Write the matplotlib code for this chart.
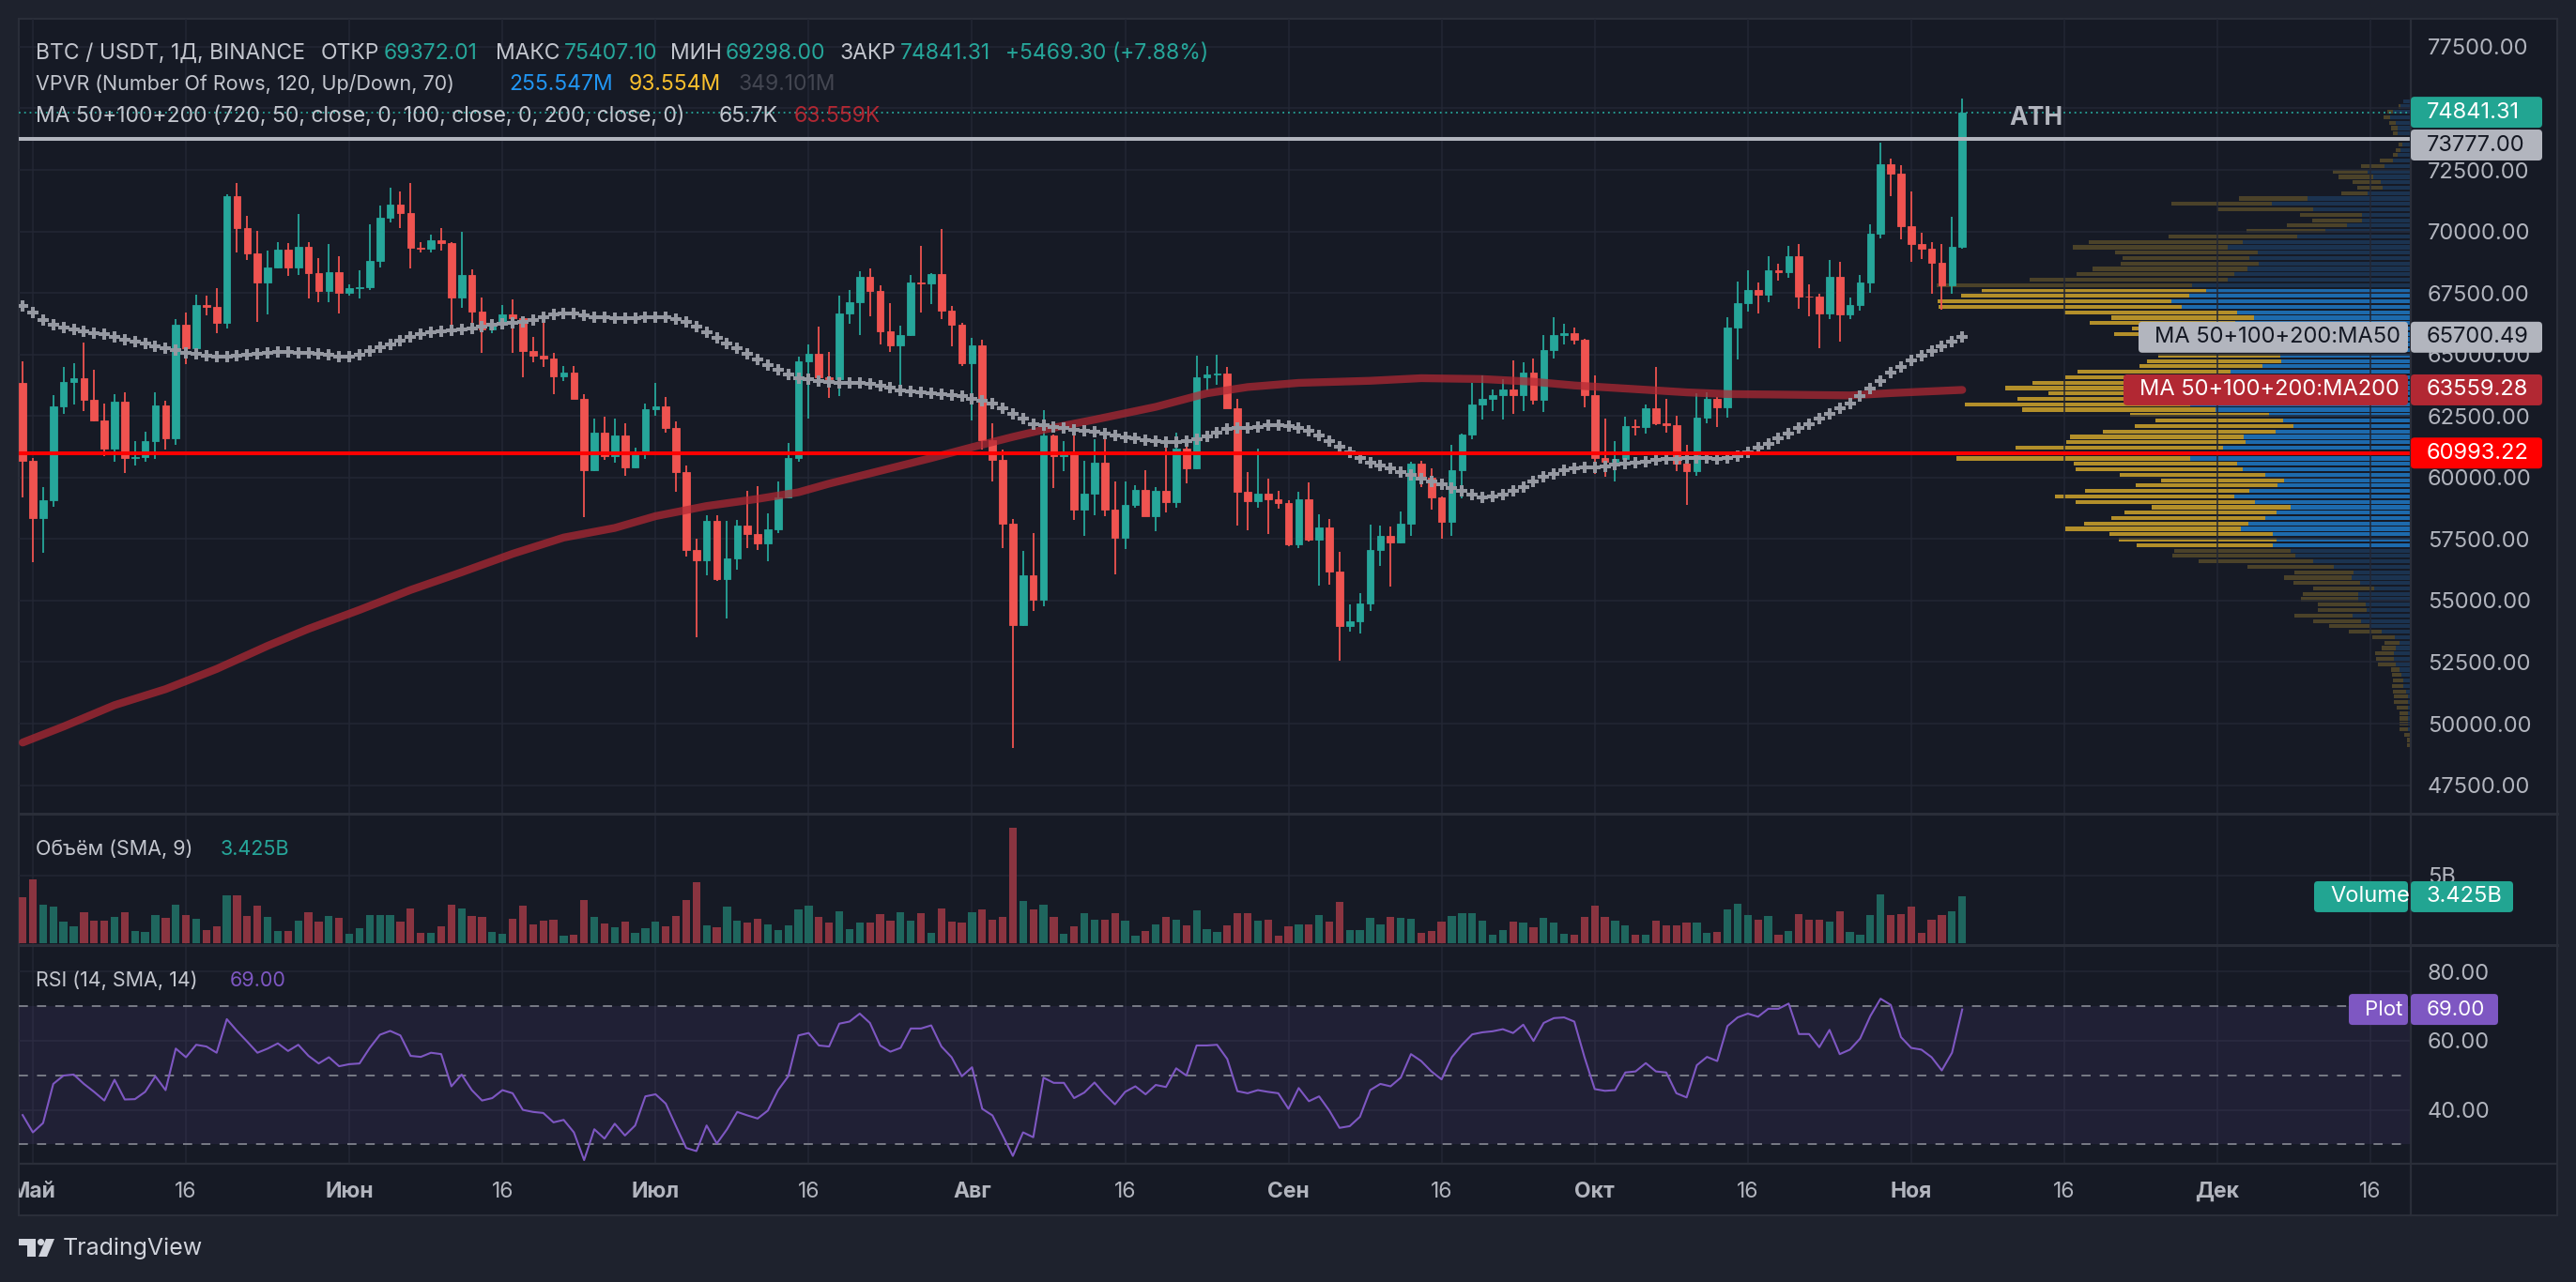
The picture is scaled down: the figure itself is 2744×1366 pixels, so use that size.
import numpy as np
import pandas as pd
import matplotlib
matplotlib.use("Agg")
import matplotlib.pyplot as plt
import matplotlib.dates as mdates
import matplotlib.transforms as mtransforms
from matplotlib.patches import Rectangle, FancyBboxPatch, Polygon, Circle
from matplotlib.lines import Line2D

W, H, DPI = 2744, 1366, 100
plt.rcParams["font.family"] = ["Inter", "DejaVu Sans"]

# ---- daily candles BTC/USDT, 30 Apr .. 6 Nov 2024 ----
opens = [
    63840, 60670, 58360, 59090, 62890, 63890, 64030, 63160, 62330, 61190,
    63070, 60790, 60820, 61480, 62940, 61580, 66210, 65240, 67020, 66920,
    66270, 71450, 70140, 69120, 67930, 68530, 69270, 68520, 69390, 68300,
    67580, 68360, 67490, 67710, 67750, 68800, 70570, 71080, 70760, 69340,
    69310, 69650, 69510, 67330, 68240, 66760, 66010, 66190, 66640, 66490,
    65150, 64960, 64830, 64100, 64250, 63180, 60280, 61810, 60860, 61710,
    60430, 60990, 62770, 62900, 62030, 60210, 57050, 56630, 58230, 55860,
    56710, 58050, 57720, 57340, 57890, 59200, 60800, 64720, 65040, 64090,
    63990, 66660, 67140, 68170, 67580, 65930, 65370, 65780, 67910, 67900,
    68250, 66780, 66190, 64630, 65350, 61500, 60700, 58120, 53990, 56030,
    55030, 61710, 60880, 60950, 58710, 59350, 60600, 58690, 57540, 58870,
    59490, 58430, 59440, 59010, 61160, 60380, 64090, 64180, 64220, 62830,
    59420, 59030, 59360, 59120, 58970, 57300, 59130, 57480, 57970, 56160,
    53960, 54160, 54870, 57040, 57630, 57350, 58130, 60570, 60000, 59180,
    58190, 60310, 61760, 62950, 63200, 63350, 63580, 63340, 64260, 63150,
    65170, 65770, 65860, 65600, 63330, 60800, 60650, 60750, 62090, 62060,
    62820, 62220, 62130, 60580, 60270, 62450, 63190, 62850, 66080, 67070,
    67620, 67420, 68430, 68360, 69000, 67370, 67360, 66650, 68160, 66640,
    67010, 67930, 69910, 72720, 72340, 70220, 69480, 69290, 68740, 67810,
    69372.01,
]
highs = [
    64730, 60780, 59600, 63330, 64490, 64650, 65500, 64390, 62990, 63400,
    63460, 61490, 61850, 63450, 63100, 66450, 66690, 67440, 67400, 67700,
    71510, 71980, 70620, 70040, 69220, 69560, 69510, 70690, 69560, 68900,
    69500, 69000, 67860, 68410, 70290, 71060, 71760, 71620, 71980, 69580,
    69850, 70150, 69570, 69990, 68450, 67300, 66400, 66990, 67250, 66560,
    65730, 66480, 65070, 64520, 64520, 63370, 62380, 62480, 62390, 62200,
    61220, 63000, 63850, 63290, 62280, 60500, 57510, 58480, 58470, 58240,
    58290, 59470, 59650, 58530, 59850, 61420, 64900, 65390, 66130, 65120,
    67390, 67600, 68370, 68480, 67820, 67100, 66180, 68220, 69400, 68320,
    70080, 66980, 66270, 65660, 65600, 62200, 61120, 58300, 57030, 57740,
    62750, 61760, 61470, 61860, 60680, 61570, 61800, 59850, 59820, 59690,
    60280, 59620, 61400, 61820, 61410, 64950, 64520, 65000, 64480, 63210,
    60230, 61170, 59940, 59460, 59060, 59420, 59800, 58520, 58330, 56990,
    54840, 55300, 58100, 58040, 57990, 58600, 60630, 60660, 60380, 59210,
    61320, 61790, 63850, 64130, 63560, 64000, 64750, 64690, 64820, 65800,
    66500, 66260, 66080, 65620, 64130, 62390, 61470, 62480, 62370, 62970,
    64480, 63200, 62520, 61320, 63420, 63480, 63290, 66500, 67950, 68420,
    67940, 69000, 68690, 69400, 69500, 67840, 67450, 68850, 68770, 67320,
    68220, 70270, 73620, 72960, 72700, 71630, 69940, 69580, 69480, 70580,
    75407.10,
]
lows = [
    59190, 56550, 56940, 58810, 62570, 62960, 62700, 62280, 60880, 60650,
    60190, 60490, 60630, 60750, 61150, 61330, 64610, 65110, 66600, 65860,
    66060, 69160, 68840, 66310, 66620, 68480, 68180, 68240, 67270, 67130,
    67130, 66680, 67380, 67260, 67610, 68540, 70380, 70120, 68500, 69150,
    69130, 69230, 66050, 66900, 66300, 65080, 65880, 66000, 65080, 64060,
    64700, 64500, 63380, 63910, 63180, 58400, 60260, 60710, 60620, 60070,
    60380, 60770, 62520, 61820, 59410, 56770, 53490, 56030, 55790, 54260,
    56270, 57150, 57050, 56590, 57750, 59170, 60640, 62400, 63850, 63240,
    63300, 66230, 65800, 66570, 65390, 65110, 63450, 65750, 66720, 67050,
    66450, 65320, 64530, 62300, 61120, 59850, 57120, 49000, 53960, 54560,
    54770, 59570, 60260, 58290, 57640, 58450, 58430, 56080, 57100, 58780,
    58410, 57810, 58590, 58780, 59780, 60350, 63530, 63780, 62800, 58030,
    57860, 58790, 57700, 58740, 57200, 57130, 57410, 55600, 55640, 52550,
    53740, 53650, 54590, 56390, 55550, 57320, 57630, 59600, 58700, 57500,
    57610, 59170, 61560, 62350, 62700, 62360, 62580, 62700, 62980, 62670,
    64820, 65420, 65420, 62860, 60160, 60040, 59830, 60460, 61690, 61800,
    62130, 61820, 60260, 58900, 60050, 62220, 62040, 62420, 64800, 66750,
    66670, 67120, 68010, 68100, 66840, 66570, 65260, 66450, 65520, 66440,
    66770, 67510, 69730, 71440, 69690, 68780, 68860, 67480, 66800, 67450,
    69298.00,
]
closes = [
    60670, 58360, 59090, 62890, 63890, 64030, 63160, 62330, 61190, 63070,
    60790, 60820, 61480, 62940, 61580, 66210, 65240, 67020, 66920, 66270,
    71450, 70140, 69120, 67930, 68530, 69270, 68520, 69390, 68300, 67580,
    68360, 67490, 67710, 67750, 68800, 70570, 71080, 70760, 69340, 69310,
    69650, 69510, 67330, 68240, 66760, 66010, 66190, 66640, 66490, 65150,
    64960, 64830, 64100, 64250, 63180, 60280, 61810, 60860, 61710, 60430,
    60990, 62770, 62900, 62030, 60210, 57050, 56630, 58230, 55860, 56710,
    58050, 57720, 57340, 57890, 59200, 60800, 64720, 65040, 64090, 63990,
    66660, 67140, 68170, 67580, 65930, 65370, 65780, 67910, 67900, 68250,
    66780, 66190, 64630, 65350, 61500, 60700, 58120, 53990, 56030, 55030,
    61710, 60880, 60950, 58710, 59350, 60600, 58690, 57540, 58870, 59490,
    58430, 59440, 59010, 61160, 60380, 64090, 64180, 64220, 62830, 59420,
    59030, 59360, 59120, 58970, 57300, 59130, 57480, 57970, 56160, 53960,
    54160, 54870, 57040, 57630, 57350, 58130, 60570, 60000, 59180, 58190,
    60310, 61760, 62950, 63200, 63350, 63580, 63340, 64260, 63150, 65170,
    65770, 65860, 65600, 63330, 60800, 60650, 60750, 62090, 62060, 62820,
    62220, 62130, 60580, 60270, 62450, 63190, 62850, 66080, 67070, 67620,
    67420, 68430, 68360, 69000, 67370, 67360, 66650, 68160, 66640, 67010,
    67930, 69910, 72720, 72340, 70220, 69480, 69290, 68740, 67810, 69372.01,
    74841.31,
]
# volume, billions USDT
volumes = [
    3.39, 4.70, 2.83, 2.70, 1.61, 1.27, 2.28, 1.66, 1.66, 1.96,
    2.28, 0.90, 0.85, 2.07, 1.87, 2.83, 2.07, 1.80, 0.97, 1.27,
    3.53, 3.53, 2.00, 2.76, 1.91, 0.90, 0.90, 1.66, 2.28, 1.59,
    2.00, 1.87, 0.69, 1.10, 2.07, 2.07, 2.07, 1.59, 2.56, 0.76,
    0.76, 1.24, 2.83, 2.56, 2.00, 1.94, 0.83, 0.69, 1.80, 2.76,
    1.38, 1.66, 1.73, 0.55, 0.62, 3.18, 1.94, 1.45, 1.18, 1.59,
    0.76, 1.10, 1.59, 1.24, 2.00, 3.18, 4.49, 1.31, 1.18, 2.70,
    1.66, 1.52, 1.80, 1.38, 0.97, 1.31, 2.49, 2.76, 1.94, 1.52,
    2.35, 1.04, 1.52, 1.52, 2.14, 1.66, 2.28, 1.66, 2.21, 0.76,
    2.56, 1.59, 1.52, 2.28, 2.49, 1.73, 1.94, 8.50, 3.11, 2.49,
    2.83, 1.94, 0.69, 1.24, 2.21, 1.73, 1.73, 2.21, 1.66, 0.55,
    0.90, 1.38, 1.94, 1.73, 1.31, 2.42, 1.04, 0.83, 1.31, 2.21,
    2.21, 1.66, 1.73, 0.58, 1.27, 1.38, 1.38, 2.07, 1.59, 3.04,
    0.97, 0.97, 1.87, 1.38, 1.94, 1.87, 1.80, 0.76, 0.90, 1.59,
    2.00, 2.21, 2.21, 1.66, 0.62, 0.97, 1.59, 1.52, 1.18, 1.87,
    1.52, 0.69, 0.62, 1.94, 2.76, 1.94, 1.66, 1.31, 0.62, 0.62,
    1.66, 1.31, 1.31, 1.52, 1.52, 0.76, 0.83, 2.49, 2.90, 2.07,
    1.73, 2.00, 0.62, 0.90, 2.14, 1.73, 1.73, 1.59, 2.35, 0.83,
    0.62, 2.07, 3.59, 2.07, 2.14, 2.70, 0.76, 1.73, 2.07, 2.35,
    3.425,
]
rsi = [
    38.5, 33.5, 36.2, 47.5, 49.9, 50.2, 47.5, 45.2, 42.7, 48.7,
    43.0, 43.1, 45.2, 49.7, 45.7, 57.7, 55.2, 58.8, 58.3, 56.5,
    66.2, 62.8, 59.7, 56.5, 57.7, 59.2, 57.0, 58.8, 55.6, 53.4,
    55.2, 52.6, 53.2, 53.4, 57.9, 61.7, 62.8, 61.5, 55.6, 55.3,
    56.5, 56.1, 46.8, 50.2, 45.7, 42.7, 43.4, 45.7, 44.8, 40.0,
    39.4, 39.1, 36.4, 37.1, 33.5, 25.5, 34.4, 31.7, 36.0, 32.6,
    35.5, 43.9, 44.5, 41.8, 35.3, 29.0, 28.1, 35.5, 30.3, 34.4,
    39.4, 38.4, 37.5, 39.8, 45.7, 49.7, 61.5, 62.2, 58.6, 58.3,
    64.9, 65.5, 67.8, 65.1, 58.6, 56.8, 57.9, 63.5, 63.5, 64.4,
    58.3, 55.2, 49.7, 52.3, 40.3, 38.4, 32.6, 26.7, 33.5, 32.1,
    49.3, 47.8, 47.8, 43.4, 45.0, 47.9, 44.5, 41.6, 45.2, 46.8,
    44.5, 47.2, 46.6, 52.0, 49.9, 58.6, 58.6, 58.8, 54.7, 45.4,
    44.8, 45.7, 45.2, 44.8, 40.3, 46.3, 42.5, 43.9, 39.8, 34.8,
    35.3, 38.0, 45.7, 47.5, 46.8, 49.3, 56.1, 54.1, 51.1, 48.8,
    55.2, 58.8, 61.8, 62.4, 62.7, 63.3, 62.2, 64.6, 59.9, 65.1,
    66.5, 66.7, 65.5, 55.2, 46.0, 45.5, 45.7, 50.8, 51.1, 53.5,
    51.1, 50.8, 44.8, 43.6, 52.9, 55.3, 54.1, 64.2, 66.7, 67.8,
    66.9, 69.2, 69.2, 70.7, 61.9, 61.9, 58.1, 63.1, 56.1, 57.4,
    60.6, 67.1, 72.1, 70.3, 61.0, 57.9, 57.4, 55.2, 51.4, 56.5,
    69.0,
]
ma50 = [
    66960, 66710, 66400, 66200, 66090, 66010, 65950, 65880, 65810, 65700,
    65600, 65510, 65430, 65340, 65250, 65160, 65080, 65010, 64960, 64920,
    64900, 64940, 64980, 65030, 65070, 65100, 65100, 65080, 65060, 65010,
    64970, 64910, 64920, 64970, 65140, 65290, 65410, 65560, 65710, 65810,
    65890, 65930, 65980, 66020, 66070, 66130, 66190, 66240, 66280, 66330,
    66400, 66510, 66620, 66650, 66650, 66590, 66530, 66500, 66480, 66480,
    66490, 66520, 66530, 66500, 66450, 66330, 66120, 65900, 65690, 65460,
    65250, 65020, 64790, 64580, 64360, 64170, 64050, 63980, 63920, 63880,
    63850, 63850, 63845, 63800, 63740, 63640, 63550, 63500, 63470, 63430,
    63400, 63360, 63300, 63210, 63120, 62990, 62800, 62570, 62380, 62170,
    62110, 62060, 62000, 61950, 61900, 61850, 61800, 61720, 61640, 61580,
    61530, 61480, 61440, 61430, 61460, 61550, 61670, 61820, 61960, 62000,
    62020, 62070, 62110, 62120, 62100, 62030, 61880, 61700, 61480, 61250,
    61030, 60800, 60600, 60480, 60360, 60220, 60100, 59960, 59830, 59710,
    59580, 59440, 59300, 59190, 59240, 59310, 59440, 59620, 59820, 60030,
    60140, 60280, 60380, 60410, 60410, 60440, 60510, 60550, 60590, 60640,
    60700, 60750, 60770, 60790, 60800, 60780, 60750, 60800, 60860, 61020,
    61220, 61370, 61580, 61800, 62000, 62180, 62400, 62600, 62800, 63000,
    63320, 63630, 63930, 64250, 64500, 64750, 64950, 65140, 65330, 65520,
    65700.49,
]
ma200_dates = [
    "2024-04-30", "2024-05-04", "2024-05-09", "2024-05-14", "2024-05-19",
    "2024-05-24", "2024-05-28", "2024-06-02", "2024-06-07", "2024-06-12",
    "2024-06-17", "2024-06-22", "2024-06-27", "2024-07-01", "2024-07-06",
    "2024-07-11", "2024-07-15", "2024-07-18", "2024-07-23", "2024-07-28",
    "2024-08-01", "2024-08-05", "2024-08-08", "2024-08-13", "2024-08-19",
    "2024-08-24", "2024-08-28", "2024-09-02", "2024-09-09", "2024-09-14",
    "2024-09-20", "2024-09-25", "2024-09-29", "2024-10-05", "2024-10-10",
    "2024-10-14", "2024-10-19", "2024-10-26", "2024-10-30", "2024-11-06",
]
ma200 = [
    49230, 49880, 50750, 51400, 52220, 53160, 53850, 54620, 55430, 56150,
    56900, 57560, 57950, 58430, 58840, 59130, 59400, 59750, 60270, 60790,
    61230, 61650, 61940, 62350, 62870, 63420, 63675, 63845, 63930, 64035,
    64000, 63890, 63740, 63590, 63460, 63390, 63370, 63335, 63430, 63559.28,
]
# visible-range volume profile, 120 rows from bottom to top (up / down)
vp_up = [
    0, 0, 0, 9, 9, 9, 9, 9, 9, 9,
    14, 23, 23, 29, 35, 46, 52, 52, 46, 35,
    49, 90, 128, 154, 180, 136, 139, 162, 162, 113,
    157, 183, 177, 238, 302, 357, 372, 427, 415, 427,
    525, 502, 450, 415, 372, 482, 546, 499, 412, 392,
    450, 520, 537, 682, 682, 582, 512, 518, 419, 364,
    396, 438, 604, 683, 613, 583, 653, 633, 583, 557,
    459, 401, 403, 423, 413, 433, 483, 433, 543, 485,
    537, 708, 740, 685, 633, 676, 566, 546, 505, 470,
    499, 473, 566, 520, 352, 265, 197, 151, 151, 302,
    430, 320, 133, 87, 93, 116, 133, 81, 55, 40,
    33, 26, 33, 40, 40, 46, 63, 55, 33, 23,
]
vp_down = [
    11, 11, 20, 26, 26, 26, 26, 34, 43, 43,
    41, 35, 32, 29, 26, 55, 55, 58, 44, 46,
    70, 101, 124, 148, 180, 151, 148, 178, 172, 189,
    206, 209, 183, 267, 354, 380, 360, 421, 488, 505,
    543, 508, 476, 470, 429, 554, 554, 508, 439, 380,
    450, 516, 505, 723, 787, 640, 554, 536, 533, 490,
    394, 430, 598, 696, 603, 538, 601, 537, 485, 474,
    380, 415, 378, 410, 400, 400, 434, 430, 450, 441,
    534, 752, 723, 706, 694, 790, 613, 488, 479, 427,
    392, 442, 479, 476, 396, 243, 186, 154, 191, 296,
    310, 211, 82, 78, 87, 107, 108, 72, 41, 15,
    13, 12, 10, 15, 21, 21, 20, 18, 5, 0,
]
value_area = (37, 84)   # rows drawn bright
support_level = 60993.22
ath_level = 73777.00

price_ticks = [47500, 50000, 52500, 55000, 57500, 60000, 62500, 65000,
               67500, 70000, 72500, 75000, 77500]
tick_dates = ["2024-05-01", "2024-05-16", "2024-06-01", "2024-06-16", "2024-07-01",
              "2024-07-16", "2024-08-01", "2024-08-16", "2024-09-01", "2024-09-16",
              "2024-10-01", "2024-10-16", "2024-11-01", "2024-11-16", "2024-12-01",
              "2024-12-16"]
tick_labels = ["Май", "16", "Июн", "16", "Июл", "16", "Авг", "16", "Сен", "16",
               "Окт", "16", "Ноя", "16", "Дек", "16"]

# ---- colours ----
BG_OUT = "#1e222d"
BG = "#161a25"
GRID = "#232734"
BORDER = "#2a2e39"
TXT = "#b2b5be"
LEG = "#c3c6ce"
UP = "#26a69a"
DN = "#ef5350"

opens = np.array(opens); highs = np.array(highs)
lows = np.array(lows); closes = np.array(closes)
dates = pd.date_range("2024-04-30", periods=len(closes), freq="D")
x = mdates.date2num(dates)
rising = closes >= opens
ccol = np.where(rising, UP, DN)

fig = plt.figure(figsize=(W / DPI, H / DPI), dpi=DPI, facecolor=BG_OUT)


def fx(px):
    return px / W


def fy(py):
    return 1 - py / H


# chart background and frame
fig.add_artist(Rectangle((fx(20), fy(1295)), fx(2724) - fx(20), fy(20) - fy(1295),
                         transform=fig.transFigure, fc=BG, ec=BORDER, lw=1.5, zorder=-10))

x0 = mdates.date2num(pd.Timestamp("2024-05-01"))
xlim = (x0 - 1.38, x0 + 232.94)
tks = mdates.date2num(pd.to_datetime(tick_dates))

ax_vp = fig.add_axes([fx(20), fy(867), (2568 - 20) / W, (867 - 20) / H], zorder=-1)
ax_p = fig.add_axes([fx(20), fy(867), (2568 - 20) / W, (867 - 20) / H], sharey=ax_vp)
ax_v = fig.add_axes([fx(20), fy(1007), (2568 - 20) / W, (1007 - 867) / H])
ax_r = fig.add_axes([fx(20), fy(1240), (2568 - 20) / W, (1240 - 1007) / H])

for ax in (ax_p, ax_v, ax_r):
    ax.set_facecolor("none")
    for s in ax.spines.values():
        s.set_visible(False)
    ax.set_xlim(*xlim)
    ax.set_xticks(tks)
    ax.tick_params(axis="x", length=0, labelbottom=False)
    ax.yaxis.tick_right()
    ax.tick_params(axis="y", length=0, pad=13, labelsize=17, labelcolor=TXT)
    ax.grid(True, color=GRID, lw=1.1)
    ax.set_axisbelow(True)

# ---- price panel ----
ax_p.set_ylim(46339, 78640)
ax_p.set_yticks(price_ticks)
# the scale label hidden under the last-price tag is left blank
ax_p.set_yticklabels(["" if abs(v - closes[-1]) < 500 else f"{v:.2f}" for v in price_ticks])

# volume profile (behind the price axes)
ax_vp.set_facecolor("none")
ax_vp.axis("off")
row_h = (highs.max() - lows.min()) / len(vp_up)
rows = lows.min() + row_h * (np.arange(len(vp_up)) + 0.5)
inside = (np.arange(len(vp_up)) >= value_area[0]) & (np.arange(len(vp_up)) <= value_area[1])
ax_vp.barh(rows, vp_up, height=row_h * 0.72, left=0,
           color=np.where(inside, "#1d6aad", "#1b3350"), lw=0)
ax_vp.barh(rows, vp_down, height=row_h * 0.72, left=vp_up,
           color=np.where(inside, "#b38f2a", "#4b4229"), lw=0)
ax_vp.set_xlim(1469 * 2548 / 506, 0)

# candles
ax_p.vlines(x, lows, highs, colors=ccol, lw=1.3, zorder=3)
ax_p.bar(x, np.abs(closes - opens), bottom=np.minimum(opens, closes), width=0.7,
         color=ccol, edgecolor=ccol, lw=0.6, zorder=4)

# moving averages
ax_p.plot(mdates.date2num(pd.to_datetime(ma200_dates)), ma200, color="#b22833",
          alpha=0.72, lw=6, solid_capstyle="round", zorder=5)
ax_p.plot(x, ma50, ls="none", marker="+", ms=8.5, mew=2.9, color="#9598a1", zorder=6)

# horizontal levels
ax_p.axhline(closes[-1], color=UP, lw=1.3, ls=(0, (1, 2.2)), zorder=6)
ax_p.axhline(ath_level, color=TXT, lw=2.9, zorder=7)
ax_p.axhline(support_level, color="#ff0000", lw=2.9, zorder=7)
fig.text(fx(2140), fy(126), "ATH", color=TXT, fontsize=19, fontweight="bold",
         va="center", ha="left")

# ---- volume panel ----
ax_v.set_ylim(-0.138, 9.54)
ax_v.set_yticks([5])
ax_v.set_yticklabels(["5B"])
ax_v.bar(x, volumes, width=0.76, color=np.where(rising, "#1f665e", "#8a3440"), lw=0)

# ---- RSI panel ----
ax_r.set_ylim(24.44, 87.59)
ax_r.set_yticks([40, 60, 80])
ax_r.set_yticklabels(["40.00", "60.00", "80.00"])
ax_r.axhspan(30, 70, color="#7e57c2", alpha=0.1, lw=0)
for lvl in (30, 50, 70):
    ax_r.axhline(lvl, color="#787b86", lw=1.4, ls=(0, (5, 5)))
ax_r.plot(x, rsi, color="#7e57c2", lw=1.5)

# time labels (clipped at the chart frame)
clip = mtransforms.TransformedBbox(
    mtransforms.Bbox.from_extents(fx(20), fy(1295), fx(2568), fy(1240)), fig.transFigure)
blend = mtransforms.blended_transform_factory(ax_r.transData, fig.transFigure)
for d, lab in zip(tks, tick_labels):
    t = ax_r.text(d, fy(1270), lab, transform=blend, color=TXT, fontsize=16.5,
                  fontweight="normal" if lab.isdigit() else "bold",
                  ha="center", va="center", clip_on=True)
    t.set_clip_box(clip)

# ---- frame lines ----
for yy, lw in ((867, 2.2), (1007, 2.2), (1240, 1.6)):
    fig.add_artist(Line2D([fx(20), fx(2724)], [fy(yy), fy(yy)], color=BORDER, lw=lw,
                          transform=fig.transFigure, zorder=6))
fig.add_artist(Line2D([fx(2568), fx(2568)], [fy(20), fy(1295)], color=BORDER, lw=1.6,
                      transform=fig.transFigure, zorder=6))


# ---- value tags on the scales ----
def tag(ax, val, text, fc, tc, xa, xb, dy=0, h=33, size=17):
    yc = ax.transData.transform((0, val))[1] + dy
    fig.add_artist(FancyBboxPatch((xa, yc - h / 2), xb - xa, h,
                                  boxstyle="round,pad=0,rounding_size=4",
                                  transform=mtransforms.IdentityTransform(),
                                  fc=fc, ec="none", zorder=20))
    fig.text((xa + 17) / W, yc / H, text, color=tc, fontsize=size, va="center",
             ha="left", zorder=21)


tag(ax_p, ath_level, f"{ath_level:.2f}", TXT, "#131722", 2568, 2708, dy=-7)
tag(ax_p, closes[-1], f"{closes[-1]:.2f}", "#22a592", "white", 2568, 2708)
tag(ax_p, ma50[-1], "MA 50+100+200:MA50", TXT, "#131722", 2278, 2565)
tag(ax_p, ma50[-1], f"{ma50[-1]:.2f}", TXT, "#131722", 2568, 2708)
tag(ax_p, ma200[-1], "MA 50+100+200:MA200", "#b22833", "white", 2262, 2565)
tag(ax_p, ma200[-1], f"{ma200[-1]:.2f}", "#b22833", "white", 2568, 2708)
tag(ax_p, support_level, f"{support_level:.2f}", "#ff0000", "white", 2568, 2708)
tag(ax_v, volumes[-1], "Volume", "#22a592", "white", 2465, 2565)
tag(ax_v, volumes[-1], f"{volumes[-1]:.3f}B", "#22a592", "white", 2568, 2677)
tag(ax_r, rsi[-1], "Plot", "#7e57c2", "white", 2502, 2565, size=16)
tag(ax_r, rsi[-1], f"{rsi[-1]:.2f}", "#7e57c2", "white", 2568, 2661, size=16)

# ---- legends: each piece starts where the reference puts it ----
renderer = fig.canvas.get_renderer()


def legend_line(y, parts):
    end = 0
    for text, color, start, size in parts:
        xx = max(start, end + 4) if end else start
        t = fig.text(xx / W, fy(y), text, color=color, fontsize=size, va="center", ha="left")
        end = t.get_window_extent(renderer).x1


chg = closes[-1] - opens[-1]
legend_line(57, [("BTC / USDT, 1Д, BINANCE", LEG, 37.5, 16.5),
                 ("ОТКР", LEG, 342, 16.5), (f"{opens[-1]:.2f}", UP, 407, 16.5),
                 ("МАКС", LEG, 528, 16.5), (f"{highs[-1]:.2f}", UP, 598, 16.5),
                 ("МИН", LEG, 714, 16.5), (f"{lows[-1]:.2f}", UP, 770, 16.5),
                 ("ЗАКР", LEG, 895, 16.5), (f"{closes[-1]:.2f}", UP, 955, 16.5),
                 (f"+{chg:.2f} (+{chg / opens[-1] * 100:.2f}%)", UP, 1071, 16.5)])
legend_line(90, [("VPVR (Number Of Rows, 120, Up/Down, 70)", LEG, 37.5, 15.5),
                 ("255.547M", "#2196f3", 542, 16.5), ("93.554M", "#fbc02d", 670, 16.5),
                 ("349.101M", "#434651", 786, 16.5)])
legend_line(124, [("MA 50+100+200 (720, 50, close, 0, 100, close, 0, 200, close, 0)",
                   LEG, 37.5, 16.5),
                  ("65.7K", LEG, 766, 16.5), ("63.559K", "#b22833", 846, 16.5)])
legend_line(905, [("Объём (SMA, 9)", LEG, 37.5, 15.5),
                  (f"{volumes[-1]:.3f}B", UP, 235, 15.5)])
legend_line(1045, [("RSI (14, SMA, 14)", LEG, 37.5, 15.5),
                   (f"{rsi[-1]:.2f}", "#7e57c2", 245, 15.5)])

# ---- TradingView logo ----
LOGO = "#d1d4dc"
idt = mtransforms.IdentityTransform()
fig.add_artist(Polygon([(20, H - 1320), (38, H - 1320), (38, H - 1339), (29, H - 1339),
                        (29, H - 1327), (20, H - 1327)], closed=True, transform=idt,
                       fc=LOGO, ec="none"))
fig.add_artist(Circle((43.5, H - 1323.5), 3.6, transform=idt, fc=LOGO, ec="none"))
fig.add_artist(Polygon([(49, H - 1320), (58, H - 1320), (50, H - 1339), (41, H - 1339)],
                       closed=True, transform=idt, fc=LOGO, ec="none"))
fig.text(fx(67), fy(1330), "TradingView", color=LOGO, fontsize=18, va="center", ha="left")

fig.savefig("out.png", dpi=DPI, facecolor=BG_OUT)
